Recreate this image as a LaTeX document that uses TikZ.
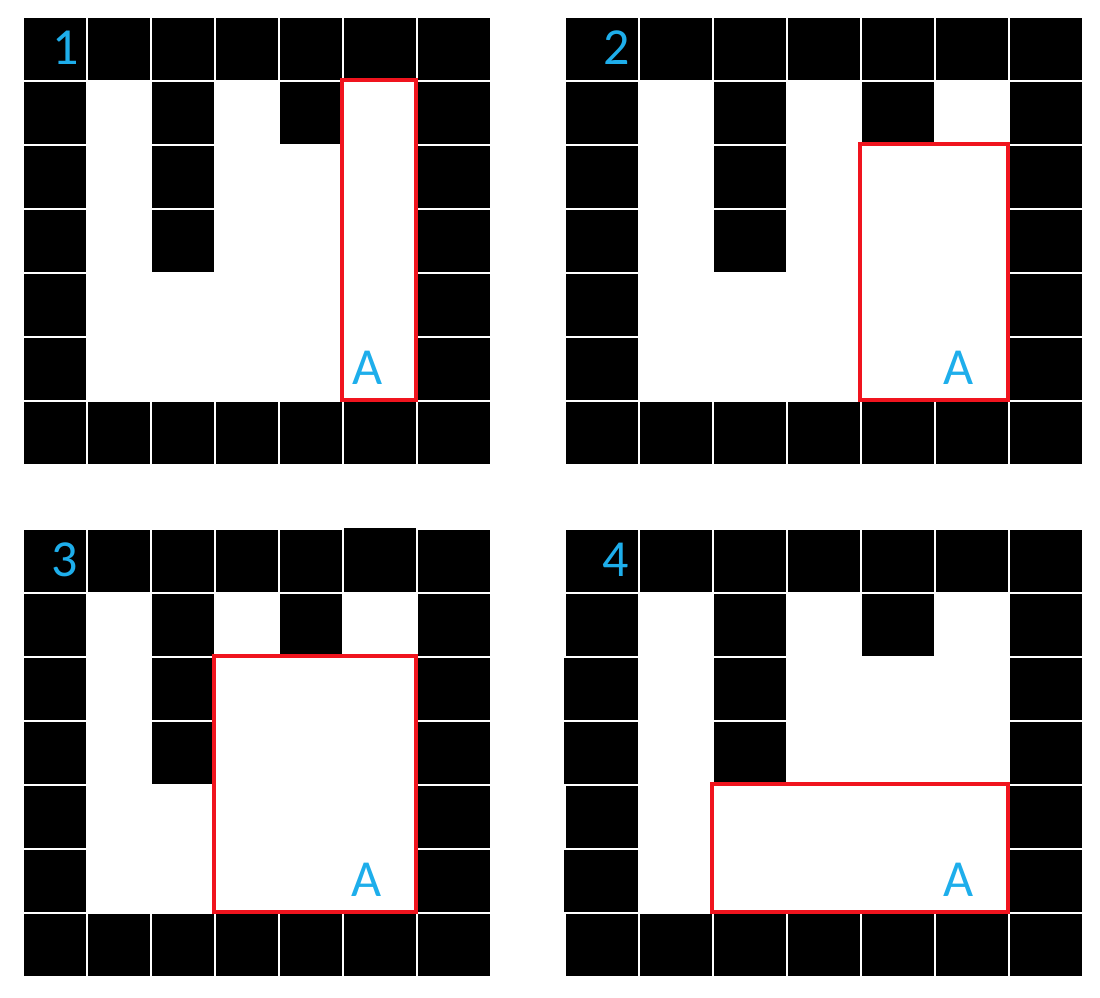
\documentclass[tikz,border=0pt]{standalone}
\usepackage{fontspec}
\setmainfont{Carlito}
\definecolor{mazeblue}{RGB}{30,174,235}
\definecolor{mazered}{RGB}{240,20,30}
\tikzset{
  lbl/.style={text=mazeblue, font=\fontsize{52}{60}\selectfont, inner sep=0pt, anchor=base},
  redbox/.style={draw=mazered, line width=3.7pt},
  wall/.style={fill=black}
}
\def\blackcells{0/0,1/0,2/0,3/0,4/0,5/0,6/0,0/1,2/1,4/1,6/1,0/2,2/2,6/2,0/3,2/3,6/3,0/4,6/4,0/5,6/5,0/6,1/6,2/6,3/6,4/6,5/6,6/6}
\newcommand\drawmaze[4]{%
  \foreach \c/\r in \blackcells {%
    \pgfmathsetmacro\xa{{#1}[\c]}%
    \pgfmathsetmacro\xb{{#2}[\c]}%
    \pgfmathsetmacro\ya{{#3}[\r]}%
    \pgfmathsetmacro\yb{{#4}[\r]}%
    \fill[wall] (\xa,\ya) rectangle (\xb,\yb);
  }}
\begin{document}
\begin{tikzpicture}[x=1pt,y=-1pt]
\useasboundingbox (0,0) rectangle (1100,998);
\fill[white] (0,0) rectangle (1100,998);
% grid 1
\drawmaze{24,88,152,216,280,344,418}{86,150,214,278,342,416,490}{18,82,146,210,274,338,402}{80,144,208,272,336,400,464}
% grid 2
\drawmaze{566,640,714,788,862,936,1010}{638,712,786,860,934,1008,1082}{18,82,146,210,274,338,402}{80,144,208,272,336,400,464}
% grid 3
\drawmaze{24,88,152,216,280,344,418}{86,150,214,278,342,416,490}{530,594,658,722,786,850,914}{592,656,720,784,848,912,976}
\fill[wall] (344,528) rectangle (416,532);
% grid 4
\drawmaze{566,640,714,788,862,936,1010}{638,712,786,860,934,1008,1082}{530,594,658,722,786,850,914}{592,656,720,784,848,912,976}
\fill[wall] (564,658) rectangle (568,720);
\fill[wall] (564,722) rectangle (568,784);
\fill[wall] (564,850) rectangle (568,912);
% red frames
\draw[redbox] (342,80) rectangle (416,400);
\draw[redbox] (860,144) rectangle (1008,400);
\draw[redbox] (214,656) rectangle (416,912);
\draw[redbox] (712,784) rectangle (1008,912);
% labels
\node[lbl] (n1) at (65.5,64) {1};
\node[lbl] (n2) at (617,64) {2};
\node[lbl] (n3) at (65,576.5) {3};
\node[lbl] (n4) at (616,576.5) {4};
\node[lbl] (a1) at (367.5,384) {A};
\node[lbl] (a2) at (959,384) {A};
\node[lbl] (a3) at (367,896.5) {A};
\node[lbl] (a4) at (959,896.5) {A};
\end{tikzpicture}
\end{document}
